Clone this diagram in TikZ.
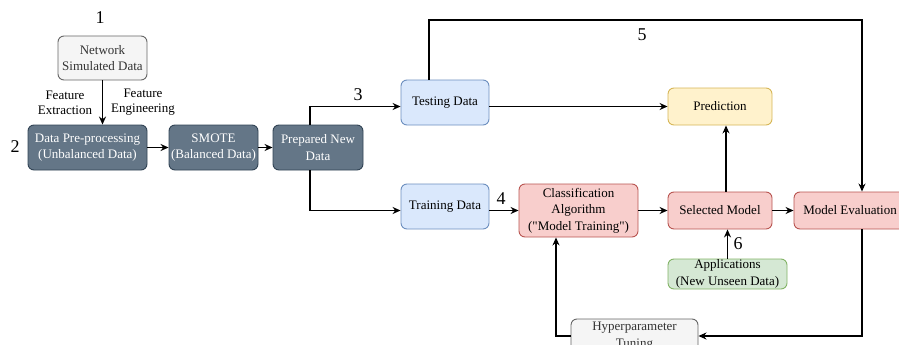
\documentclass[tikz,border=0pt]{standalone}
\usepackage{fontspec}
\setmainfont{Liberation Serif}[Ligatures=TeXOff]
\usetikzlibrary{arrows.meta}
\definecolor{slatef}{HTML}{647687}
\definecolor{slated}{HTML}{314354}
\definecolor{greyf}{HTML}{F5F5F5}
\definecolor{greyd}{HTML}{666666}
\definecolor{greyt}{HTML}{333333}
\definecolor{bluef}{HTML}{DAE8FC}
\definecolor{blued}{HTML}{6C8EBF}
\definecolor{redf}{HTML}{F8CECC}
\definecolor{redd}{HTML}{B85450}
\definecolor{yelf}{HTML}{FFF2CC}
\definecolor{yeld}{HTML}{D6B656}
\definecolor{grnf}{HTML}{D5E8D4}
\definecolor{grnd}{HTML}{82B366}
\begin{document}
\begin{tikzpicture}[x=1pt,y=-1pt,
  box/.style={draw, rounded corners=6pt, line width=0.9pt, align=center, inner sep=0pt,
    font=\fontsize{13}{16.5}\selectfont},
  slatebox/.style={box, fill=slatef, draw=slated, text=white},
  greybox/.style={box, fill=greyf, draw=greyd, text=greyt},
  bluebox/.style={box, fill=bluef, draw=blued},
  redbox/.style={box, fill=redf, draw=redd},
  yelbox/.style={box, fill=yelf, draw=yeld},
  grnbox/.style={box, fill=grnf, draw=grnd},
  conn/.style={line width=1.3pt, -{Stealth[length=8pt,width=7pt]}},
  num/.style={font=\fontsize{18}{20}\selectfont, inner sep=0pt},
  lbl/.style={font=\fontsize{13}{15}\selectfont, align=center, inner sep=0pt}]
\useasboundingbox (0,0) rectangle (899,345);

\node[greybox, minimum width=89pt, minimum height=44pt] (net) at (102.5,58) {Network\\Simulated Data};
\node[slatebox, minimum width=119pt, minimum height=45pt] (pre) at (87.5,147.5) {Data Pre-processing\\(Unbalanced Data)};
\node[slatebox, minimum width=89pt, minimum height=45pt] (smote) at (213.5,147.5) {SMOTE\\(Balanced Data)};
\node[slatebox, minimum width=90pt, minimum height=45pt] (prep) at (318,147.5) {Prepared New\\Data};
\node[bluebox, minimum width=88pt, minimum height=45pt] (test) at (445,102.5) {Testing Data};
\node[bluebox, minimum width=88pt, minimum height=45pt] (train) at (445,206.5) {Training Data};
\node[redbox, minimum width=119pt, minimum height=53pt] (cls) at (578.5,210.5) {Classification\\Algorithm\\("Model Training")};
\node[redbox, minimum width=104pt, minimum height=37pt] (sel) at (720,210.5) {Selected Model};
\node[yelbox, minimum width=104pt, minimum height=37pt] (pred) at (720,106.5) {Prediction};
\node[redbox, minimum width=112pt, minimum height=37pt] (eval) at (850,210.5) {Model Evaluation};
\node[grnbox, minimum width=119pt, minimum height=30pt] (app) at (727.5,274) {Applications\\(New Unseen Data)};
\node[greybox, minimum width=127pt, minimum height=34pt] (hyp) at (634.5,336) {Hyperparameter\\Tuning};

\node[num] (n1) at (100,18) {1};
\node[num] (n2) at (15,147) {2};
\node[num] (n3) at (358,95) {3};
\node[num] (n4) at (501,199) {4};
\node[num] (n5) at (642,35) {5};
\node[num] (n6) at (738,244) {6};

\node[lbl] (fe1) at (65,102.5) {Feature\\Extraction};
\node[lbl] (fe2) at (143,102.5) {Feature\\Engineering};

\coordinate (c5a) at (429,20);
\coordinate (c5b) at (862,20);

\draw[conn] (net.south) -- (net.south |- pre.north);
\draw[conn] (pre.east) -- (smote.west);
\draw[conn] (smote.east) -- (prep.west);
\draw[conn] ([xshift=-8pt]prep.north) |- (test.west |- pred.west);
\draw[conn] ([xshift=-8pt]prep.south) |- (train.west |- cls.west);
\draw[conn] (test.east |- pred.west) -- (pred.west);
\draw[conn] (train.east |- cls.west) -- (cls.west);
\draw[conn] (cls.east) -- (sel.west);
\draw[conn] (sel.east) -- (eval.west);
\draw[conn] ([xshift=6pt]sel.north) -- ([xshift=6pt]pred.south);
\draw[conn] (app.north) -- (app.north |- sel.south);
\draw[conn] ([xshift=-16pt]test.north) -- (c5a) -- (c5b) -- (c5b |- eval.north);
\draw[conn] (c5b |- eval.south) |- (hyp.east);
\draw[conn] (hyp.west) -| ([xshift=-22.5pt]cls.south);
\end{tikzpicture}
\end{document}
